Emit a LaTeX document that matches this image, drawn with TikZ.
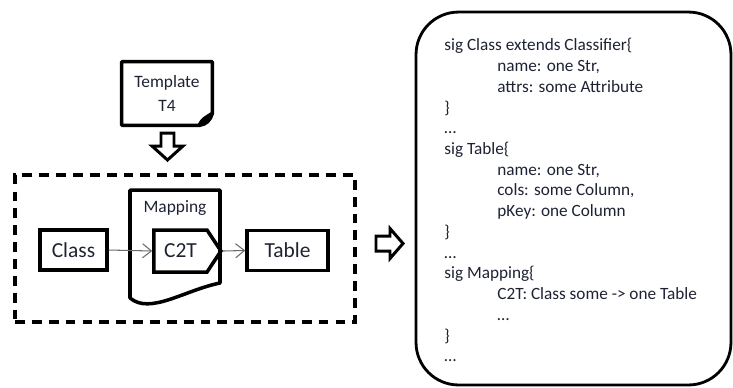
\documentclass[tikz,border=0pt]{standalone}
\usepackage{fontspec}
\setmainfont{Carlito}
\usetikzlibrary{positioning, arrows.meta, calc, shapes.symbols}
\definecolor{inkColor}{HTML}{1E2233}
\definecolor{lineColor}{HTML}{000000}
\definecolor{flowColor}{HTML}{6A6A6A}
\tikzset{
    elem box/.style={
        rectangle,
        draw=lineColor,
        line width=2pt,
        text=inkColor,
        font=\fontsize{12.2}{14}\selectfont,
        minimum width=#1,
        minimum height=0.8cm,
        inner sep=2pt,
    },
    rule box/.style={
        signal,
        signal to=east,
        signal pointer angle=113,
        draw=lineColor,
        line width=2pt,
        text=inkColor,
        font=\fontsize{12.2}{14}\selectfont,
        minimum width=1.34cm,
        minimum height=0.84cm,
        inner sep=2pt,
    },
    doc label/.style={
        text=inkColor,
        font=\fontsize{9.9}{12}\selectfont,
        align=center,
        inner sep=0pt,
    },
    outline/.style={
        draw=lineColor,
        line width=2pt,
        line join=round,
    },
    hollow/.style={
        draw=lineColor,
        fill=white,
        line width=1.7pt,
        line join=miter,
    },
    flow/.style={
        -{Straight Barb[length=5pt, width=8pt]},
        draw=flowColor,
        line width=0.6pt,
    },
    sig text/.style={
        text=inkColor,
        font=\fontsize{9.8}{11.8}\selectfont,
        align=left,
        inner sep=0pt,
        anchor=north west,
    },
}
\newcommand{\ind}{\hspace*{1.06cm}}

\begin{document}
\begin{tikzpicture}[x=0.02cm, y=-0.02cm]

\useasboundingbox (0,0) rectangle (733,387);

% ── TEMPLATE NOTE ──────────────────────────────────────────────────

\node[doc label, minimum width=1.8cm, minimum height=1.26cm] (template) at (167,93.5) {Template\\[2pt]T4};
\draw[outline] (template.north west) -- (template.north east)
    -- ($(template.south east)+(0,-12)$)
    .. controls ($(template.south east)+(-2,-5)$) and ($(template.south east)+(-6,-1)$) .. ($(template.south east)+(-13,0)$)
    -- (template.south west) -- cycle;
\filldraw[outline] ($(template.south east)+(-13,0)$)
    .. controls ($(template.south east)+(-10,-7)$) and ($(template.south east)+(-6,-8)$) .. ($(template.south east)+(0,-12)$)
    .. controls ($(template.south east)+(-5,-9)$) and ($(template.south east)+(-7,-5)$) .. cycle;

% ── TRANSFORMATION FRAME ───────────────────────────────────────────

\node[rectangle, draw=lineColor, line width=1.9pt, dash pattern=on 5.6pt off 4pt,
      minimum width=6.8cm, minimum height=2.94cm] (frame) at (185,248.5) {};

% mapping document
\node[doc label] (mapping) at (175,208) {Mapping};
\draw[outline] (130,190) -- (220,190) -- (220,283)
    .. controls (185,290) and (150,315) .. (130,298) -- cycle;

\node[elem box=1.34cm] (class) at (73.5,250) {Class};
\node[rule box] (c2t) at (180.5,251) {C2T\hspace{8pt}};
\node[elem box=1.62cm] (table) at (287.5,250.5) {Table};

\draw[flow] (class.east) -- (c2t.west);
\draw[flow] (c2t.east) -- (table.west);

% template -> frame
\coordinate (dn) at (167.5,133);
\draw[hollow, shift={(dn)}] (-6.5,0) -- (-6.5,13) -- (-15.5,13) -- (0,27)
    -- (15.5,13) -- (6.5,13) -- (6.5,0) -- cycle;

% frame -> alloy
\coordinate (rt) at (376,243.5);
\draw[hollow, shift={(rt)}] (0,-7.5) -- (14,-7.5) -- (14,-15) -- (27,0)
    -- (14,15) -- (14,7.5) -- (0,7.5) -- cycle;

% ── ALLOY SIGNATURES ───────────────────────────────────────────────

\node[rectangle, draw=lineColor, line width=1.6pt, rounded corners=0.85cm,
      minimum width=6.3cm, minimum height=7.46cm] (sigbox) at (573.5,198.5) {};

\node[sig text] (sigs) at (444,38) {%
    sig Class extends Classifier\{\\
    \ind name: one Str,\\
    \ind attrs: some Attribute\\
    \}\\
    \ldots\\
    sig Table\{\\
    \ind name: one Str,\\
    \ind cols: some Column,\\
    \ind pKey: one Column\\
    \}\\
    \ldots\\
    sig Mapping\{\\
    \ind C2T: Class some -> one Table\\
    \ind \ldots\\
    \}\\
    \ldots
};

\end{tikzpicture}
\end{document}
